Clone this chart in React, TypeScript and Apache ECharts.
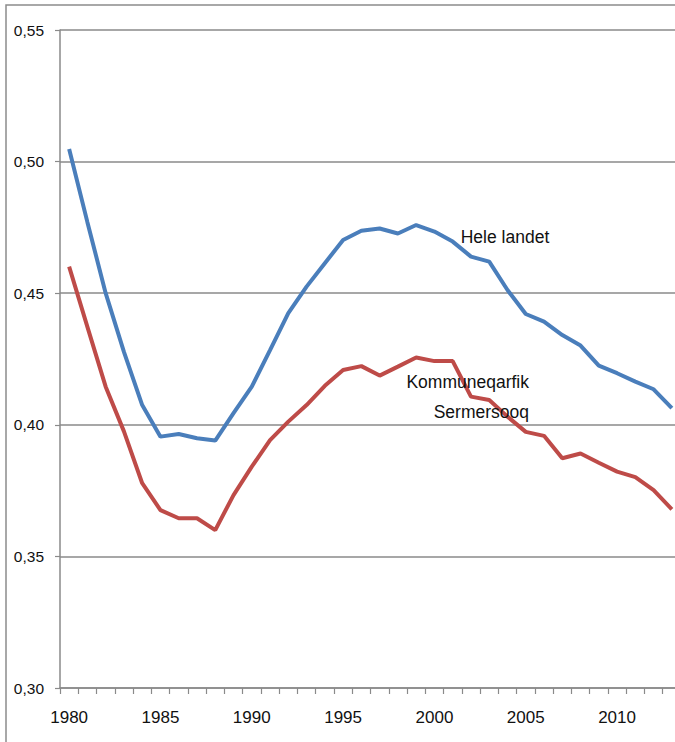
import React, { useEffect, useRef } from "react";
import * as echarts from "echarts";

const years: string[] = [
  "1980","1981","1982","1983","1984","1985","1986","1987","1988","1989",
  "1990","1991","1992","1993","1994","1995","1996","1997","1998","1999",
  "2000","2001","2002","2003","2004","2005","2006","2007","2008","2009",
  "2010","2011","2012","2013",
];

const heleLandet: number[] = [
  0.5048, 0.477, 0.450, 0.4277, 0.4075, 0.3955, 0.3965, 0.3949, 0.3940, 0.4044,
  0.4145, 0.4284, 0.4424, 0.4525, 0.4614, 0.4702, 0.4737, 0.4746, 0.4727, 0.4759,
  0.4734, 0.4696, 0.4639, 0.4620, 0.4512, 0.4421, 0.4392, 0.4341, 0.4301, 0.4225,
  0.4196, 0.4164, 0.4135, 0.4063,
];

const sermersooq: number[] = [
  0.4601, 0.4372, 0.4145, 0.3975, 0.3778, 0.3676, 0.3645, 0.3645, 0.3600, 0.3733,
  0.3841, 0.3942, 0.4012, 0.4075, 0.4148, 0.4208, 0.4223, 0.4187, 0.4221, 0.4256,
  0.4242, 0.4242, 0.4107, 0.4094, 0.4031, 0.3973, 0.3958, 0.3873, 0.3891, 0.3856,
  0.3822, 0.3801, 0.3752, 0.3679,
];

const seriesNames = ["Hele landet", "Kommuneqarfik Sermersooq"];
const yMin = 0.3;
const yMax = 0.55;
const yStep = 0.05;

const FONT = "'Liberation Sans', Arial, sans-serif";

export default function App() {
  const ref = useRef<HTMLDivElement>(null);

  useEffect(() => {
    if (!ref.current) return;
    const chart = echarts.init(ref.current, null, { renderer: "svg" });
    chart.setOption({
      animation: false,
      backgroundColor: "#ffffff",
      textStyle: { fontFamily: FONT },
      grid: { left: 60, top: 30, width: 621, height: 658, containLabel: false },
      xAxis: {
        type: "category",
        data: years,
        boundaryGap: true,
        axisLine: { show: true, lineStyle: { color: "#8a8a8a", width: 1.5 } },
        axisTick: { show: true, interval: 0, length: 6, lineStyle: { color: "#8a8a8a", width: 1.2 } },
        axisLabel: {
          interval: 4,
          margin: 21,
          fontSize: 17,
          color: "#111111",
          fontFamily: FONT,
        },
        splitLine: { show: false },
      },
      yAxis: {
        type: "value",
        min: yMin,
        max: yMax,
        interval: yStep,
        axisLine: { show: true, lineStyle: { color: "#8a8a8a", width: 1.5 } },
        axisTick: { show: true, length: 5, lineStyle: { color: "#8a8a8a", width: 1.2 } },
        axisLabel: {
          margin: 16,
          fontSize: 15.5,
          color: "#111111",
          fontFamily: FONT,
          formatter: (v: number) => v.toFixed(2).replace(".", ","),
        },
        splitLine: { show: true, lineStyle: { color: "#8a8a8a", width: 1.5 } },
      },
      series: [
        {
          name: seriesNames[0],
          type: "line",
          data: heleLandet,
          symbol: "none",
          smooth: false,
          lineStyle: { color: "#4A7EBB", width: 4 },
          itemStyle: { color: "#4A7EBB" },
          z: 3,
        },
        {
          name: seriesNames[1],
          type: "line",
          data: sermersooq,
          symbol: "none",
          smooth: false,
          lineStyle: { color: "#BE4B48", width: 4 },
          itemStyle: { color: "#BE4B48" },
          z: 2,
        },
      ],
      graphic: [
        {
          type: "rect",
          shape: { x: 6, y: 5, width: 720, height: 760 },
          style: { fill: "none", stroke: "#8c8c8c", lineWidth: 1.5 },
          silent: true,
          z: -1,
        },
        {
          type: "text",
          x: 505,
          y: 237,
          style: {
            text: "Hele landet",
            fontSize: 17.5,
            fontFamily: FONT,
            fill: "#111111",
            align: "center",
            verticalAlign: "middle",
          },
          z: 10,
        },
        {
          type: "text",
          x: 529,
          y: 382,
          style: {
            text: "Kommuneqarfik",
            fontSize: 17.5,
            fontFamily: FONT,
            fill: "#111111",
            align: "right",
            verticalAlign: "middle",
          },
          z: 10,
        },
        {
          type: "text",
          x: 529,
          y: 412,
          style: {
            text: "Sermersooq",
            fontSize: 17.5,
            fontFamily: FONT,
            fill: "#111111",
            align: "right",
            verticalAlign: "middle",
          },
          z: 10,
        },
      ],
    });
    return () => chart.dispose();
  }, []);

  return (
    <div
      style={{
        position: "fixed",
        left: 0,
        top: 0,
        width: 675,
        height: 742,
        overflow: "hidden",
        background: "#ffffff",
      }}
    >
      <div ref={ref} style={{ width: 700, height: 742 }} />
    </div>
  );
}
